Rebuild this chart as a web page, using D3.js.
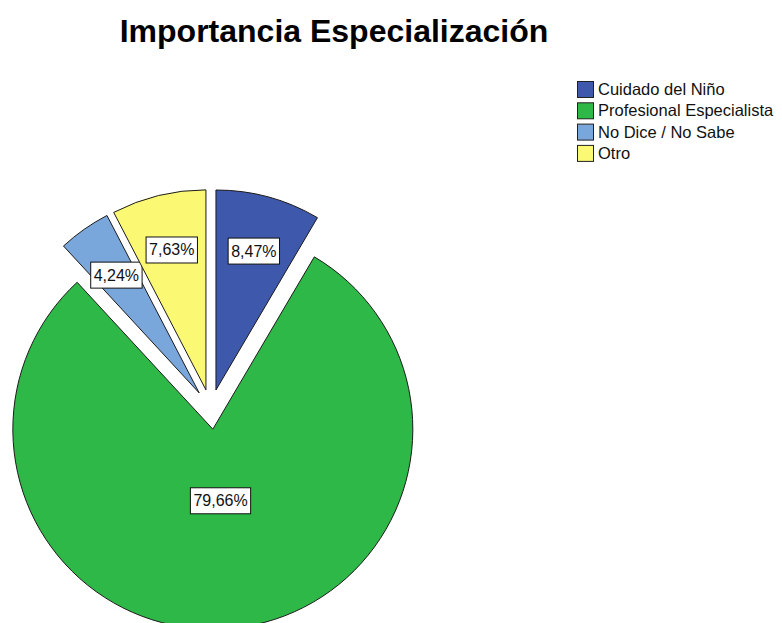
<!DOCTYPE html>
<html>
<head>
<meta charset="utf-8">
<script src="https://cdn.jsdelivr.net/npm/d3@7"></script>
<style>
  html, body { margin: 0; padding: 0; background: #ffffff; }
  svg { display: block; font-family: "Liberation Sans", Arial, sans-serif; }
</style>
</head>
<body>
<svg id="chart" width="782" height="623"></svg>
<script>
// Categories and their percentage shares
const categories = ["Cuidado del Niño", "Profesional Especialista", "No Dice / No Sabe", "Otro"];
const shares = [8.47, 79.66, 4.24, 7.63];
const labels = ["8,47%", "79,66%", "4,24%", "7,63%"];
const colors = ["#3e58ac", "#2eb848", "#7aa7db", "#fbf874"];
const title = "Importancia Especialización";

const width = 782, height = 623;
const svg = d3.select("#chart");

svg.append("rect").attr("width", width).attr("height", height).attr("fill", "#ffffff");

// Title
svg.append("text")
  .attr("x", 334).attr("y", 42)
  .attr("text-anchor", "middle")
  .attr("font-size", 32).attr("font-weight", "bold")
  .attr("fill", "#000")
  .text(title);

// Pie geometry: every slice pulled out from the centre along its bisector
const cx = 210.7, cy = 409.3, R = 200, explode = 20;
const data = categories.map((c, i) => ({ name: c, value: shares[i], label: labels[i], color: colors[i] }));
const pie = d3.pie().sort(null).value(d => d.value).startAngle(0).endAngle(2 * Math.PI);
const arcs = pie(data);
const arc = d3.arc().innerRadius(0).outerRadius(R);

const g = svg.append("g").attr("transform", `translate(${cx},${cy})`);

function offset(a, d) {
  const mid = (a.startAngle + a.endAngle) / 2;
  return [Math.sin(mid) * d, -Math.cos(mid) * d];
}

const slices = g.selectAll("g.slice").data(arcs).join("g")
  .attr("class", "slice")
  .attr("transform", d => { const [x, y] = offset(d, explode); return `translate(${x},${y})`; });

slices.append("path")
  .attr("d", arc)
  .attr("fill", d => d.data.color)
  .attr("stroke", "#1b1b1b")
  .attr("stroke-width", 1)
  .attr("stroke-linejoin", "miter");

// Value labels in white boxes
slices.each(function(d) {
  const span = d.endAngle - d.startAngle;
  const lr = span > Math.PI ? R * 0.36 : R * 0.72;
  const [lx, ly] = offset(d, lr);
  const lg = d3.select(this).append("g").attr("transform", `translate(${lx},${ly})`);
  const t = lg.append("text")
    .attr("text-anchor", "middle")
    .attr("dominant-baseline", "central")
    .attr("font-size", 16)
    .attr("fill", "#111")
    .text(d.data.label);
  const bb = t.node().getBBox();
  lg.insert("rect", "text")
    .attr("x", bb.x - 3).attr("y", -13)
    .attr("width", bb.width + 6).attr("height", 26)
    .attr("fill", "#ffffff")
    .attr("stroke", "#111")
    .attr("stroke-width", 1);
});

// Legend
const legend = svg.append("g").attr("transform", "translate(577,81)");
const rows = legend.selectAll("g").data(data).join("g")
  .attr("transform", (d, i) => `translate(0,${i * 21.3})`);
rows.append("rect")
  .attr("x", 0.5).attr("y", 0.5).attr("width", 16).attr("height", 16)
  .attr("fill", d => d.color)
  .attr("stroke", "#222").attr("stroke-width", 1);
rows.append("text")
  .attr("x", 21).attr("y", 14)
  .attr("font-size", 16.5)
  .attr("fill", "#111")
  .text(d => d.name);
</script>
</body>
</html>
